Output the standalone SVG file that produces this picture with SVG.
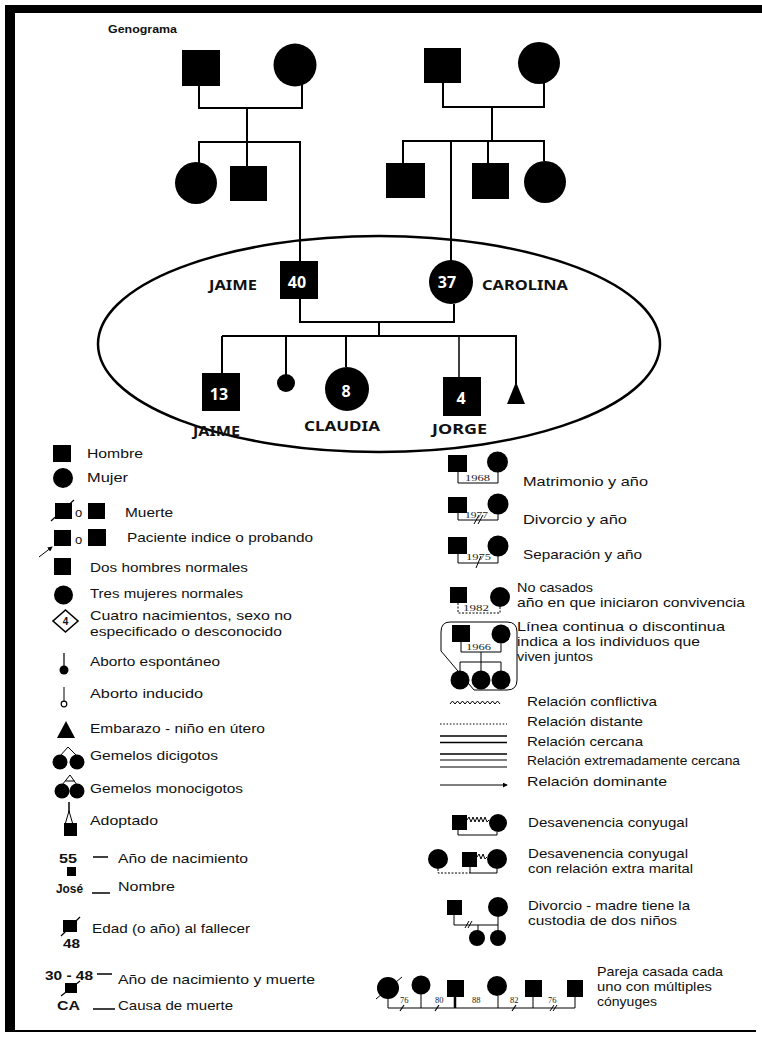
<svg xmlns="http://www.w3.org/2000/svg" width="762" height="1038" viewBox="0 0 762 1038">
<defs>
<style>
.t{font-family:"Liberation Sans","Noto Sans",sans-serif;font-size:13px;fill:#111}
.nm{font-family:"Noto Sans","Liberation Sans",sans-serif;font-size:14px;font-weight:bold;fill:#111}
.num{font-family:"Noto Sans","Liberation Sans",sans-serif;font-size:16px;font-weight:bold;fill:#fff;text-anchor:middle}
.lb{font-family:"Liberation Sans","Noto Sans",sans-serif;font-size:12px;font-weight:bold;fill:#111}
.yr{font-family:"Liberation Serif",serif;font-size:8.5px;fill:#222}
.ln{stroke:#000;stroke-width:2;fill:none}
.th{stroke:#000;stroke-width:1.2;fill:none}
.hl{stroke:#000;stroke-width:1;fill:none}
.f{fill:#000}
</style>
<marker id="ah" viewBox="0 0 6 6" refX="5" refY="3" markerWidth="5" markerHeight="5" orient="auto" markerUnits="userSpaceOnUse">
<path d="M0,0 L6,3 L0,6 Z" fill="#000"/>
</marker>
</defs>
<rect width="762" height="1038" fill="#fff"/>
<g id="frame">
<rect x="5" y="5" width="757" height="8" fill="#000"/>
<rect x="5" y="5" width="10" height="1027" fill="#000"/>
<line x1="5" y1="1031" x2="756" y2="1031" stroke="#000" stroke-width="2"/>
</g>
<text id="title" x="108" y="33" font-family="Liberation Sans,sans-serif" font-size="11" font-weight="bold" fill="#111" textLength="69" lengthAdjust="spacingAndGlyphs">Genograma</text>

<g id="connectors" class="ln">
<polyline points="199,86 199,108 302,108 302,84"/>
<line x1="247" y1="108" x2="247" y2="142"/>
<polyline points="199,163 199,142 300,142 300,261"/>
<line x1="247" y1="142" x2="247" y2="166"/>
<polyline points="443,83 443,107 544,107 544,83"/>
<line x1="492" y1="107" x2="492" y2="141"/>
<polyline points="403,163 403,141 544,141 544,161"/>
<line x1="451" y1="141" x2="451" y2="261"/>
<line x1="488" y1="141" x2="488" y2="163"/>
<polyline points="300,299 300,322 454,322 454,304"/>
<line x1="379" y1="322" x2="379" y2="336"/>
<line x1="222" y1="336" x2="517" y2="336"/>
<line x1="222" y1="336" x2="222" y2="373"/>
<line x1="286" y1="336" x2="286" y2="376"/>
<line x1="346" y1="336" x2="346" y2="367"/>
<line x1="459" y1="336" x2="459" y2="377" stroke-width="1.5"/>
<line x1="516" y1="336" x2="516" y2="384"/>
</g>

<g id="gp-left-father"><rect x="182" y="50" width="38" height="36" class="f"/></g>
<g id="gp-left-mother"><circle cx="295" cy="65" r="21.5" class="f"/></g>
<g id="aunt-left"><circle cx="196" cy="183" r="21" class="f"/></g>
<g id="uncle-left"><rect x="230" y="166" width="37" height="35" class="f"/></g>
<g id="gp-right-father"><rect x="424" y="48" width="37" height="35" class="f"/></g>
<g id="gp-right-mother"><circle cx="539" cy="63" r="21" class="f"/></g>
<g id="uncle-right-1"><rect x="386" y="163" width="39" height="35" class="f"/></g>
<g id="uncle-right-2"><rect x="472" y="163" width="37" height="36" class="f"/></g>
<g id="aunt-right"><circle cx="545" cy="182" r="21" class="f"/></g>

<g id="household"><ellipse cx="379" cy="344" rx="281" ry="108" fill="none" stroke="#000" stroke-width="2.5"/></g>

<g id="jaime-father">
<rect x="280" y="261" width="38" height="38" class="f"/>
<text x="297" y="288" class="num">40</text>
<text x="209" y="290" class="nm" textLength="48" lengthAdjust="spacingAndGlyphs">JAIME</text>
</g>
<g id="carolina">
<circle cx="451" cy="282" r="22" class="f"/>
<text x="447" y="288" class="num">37</text>
<text x="482" y="290" class="nm" textLength="86" lengthAdjust="spacingAndGlyphs">CAROLINA</text>
</g>
<g id="jaime-son">
<rect x="202" y="373" width="38" height="38" class="f"/>
<text x="219" y="400" class="num">13</text>
<text x="193" y="436" class="nm" textLength="47" lengthAdjust="spacingAndGlyphs">JAIME</text>
</g>
<g id="miscarriage"><circle cx="286" cy="383" r="9" class="f"/></g>
<g id="claudia">
<circle cx="347" cy="389" r="22" class="f"/>
<text x="346" y="397" class="num">8</text>
<text x="304" y="431" class="nm" textLength="76" lengthAdjust="spacingAndGlyphs">CLAUDIA</text>
</g>
<g id="jorge">
<rect x="443" y="377" width="38" height="39" class="f"/>
<text x="461" y="404" class="num">4</text>
<text x="432" y="434" class="nm" textLength="55" lengthAdjust="spacingAndGlyphs">JORGE</text>
</g>
<g id="pregnancy"><polygon points="516,382 507,404 525,404" class="f"/></g>

<!-- left legend -->
<g id="leg-hombre"><rect x="53" y="445" width="18" height="17" class="f"/>
<text x="87" y="458" class="t" textLength="56" lengthAdjust="spacingAndGlyphs">Hombre</text></g>
<g id="leg-mujer"><circle cx="63" cy="478" r="10" class="f"/>
<text x="87" y="482" class="t" textLength="41" lengthAdjust="spacingAndGlyphs">Mujer</text></g>
<g id="leg-muerte"><rect x="55" y="503" width="17" height="16" class="f"/>
<line x1="51" y1="521" x2="74" y2="500" class="th"/>
<text x="75" y="517" class="t" font-size="11">o</text>
<rect x="88" y="503" width="17" height="16" class="f"/>
<text x="125" y="517" class="t" textLength="48" lengthAdjust="spacingAndGlyphs">Muerte</text></g>
<g id="leg-paciente"><line x1="39" y1="557" x2="52" y2="547" class="hl" marker-end="url(#ah)"/>
<rect x="54" y="530" width="17" height="16" class="f"/>
<text x="75" y="544" class="t" font-size="11">o</text>
<rect x="88" y="529" width="18" height="17" class="f"/>
<text x="127" y="542" class="t" textLength="186" lengthAdjust="spacingAndGlyphs">Paciente indice o probando</text></g>
<g id="leg-dos-hombres"><rect x="54" y="558" width="17" height="17" class="f"/>
<text x="90" y="572" class="t" textLength="158" lengthAdjust="spacingAndGlyphs">Dos hombres normales</text></g>
<g id="leg-tres-mujeres"><circle cx="63.5" cy="595" r="9.5" class="f"/>
<text x="90" y="598" class="t" textLength="153" lengthAdjust="spacingAndGlyphs">Tres mujeres normales</text></g>
<g id="leg-cuatro"><polygon points="65.5,610 78,621 65.5,632 53,621" fill="#fff" stroke="#000" stroke-width="1.6"/>
<text x="65.5" y="625" font-family="Liberation Sans,sans-serif" font-size="10" font-weight="bold" text-anchor="middle" fill="#111">4</text>
<text x="90" y="620" class="t" textLength="202" lengthAdjust="spacingAndGlyphs">Cuatro nacimientos, sexo no</text>
<text x="90" y="636" class="t" textLength="192" lengthAdjust="spacingAndGlyphs">especificado o desconocido</text></g>
<g id="leg-aborto-esp"><line x1="64" y1="653" x2="64" y2="667" class="th"/><circle cx="64" cy="670" r="4.5" class="f"/>
<text x="90" y="666" class="t" textLength="130" lengthAdjust="spacingAndGlyphs">Aborto espontáneo</text></g>
<g id="leg-aborto-ind"><line x1="64" y1="687" x2="64" y2="701" class="hl"/><circle cx="64" cy="704" r="2.8" fill="#fff" stroke="#000" stroke-width="1.2"/>
<text x="90" y="698" class="t" textLength="113" lengthAdjust="spacingAndGlyphs">Aborto inducido</text></g>
<g id="leg-embarazo"><polygon points="66,721 57,738 75,738" class="f"/>
<text x="90" y="733" class="t" textLength="175" lengthAdjust="spacingAndGlyphs">Embarazo - niño en útero</text></g>
<g id="leg-dicigotos"><polyline points="60,756 68,747 77,756" class="hl"/>
<circle cx="60" cy="762" r="7.5" class="f"/><circle cx="77" cy="762" r="7.5" class="f"/>
<text x="90" y="760" class="t" textLength="128" lengthAdjust="spacingAndGlyphs">Gemelos dicigotos</text></g>
<g id="leg-monocigotos"><polyline points="62,785 70,775 77,785" class="hl"/><line x1="65.5" y1="781" x2="74.5" y2="781" class="hl"/>
<circle cx="62" cy="791" r="7.5" class="f"/><circle cx="77" cy="791" r="7.5" class="f"/>
<text x="90" y="793" class="t" textLength="153" lengthAdjust="spacingAndGlyphs">Gemelos monocigotos</text></g>
<g id="leg-adoptado"><line x1="69" y1="802" x2="69" y2="812" stroke="#000" stroke-width="1.5"/>
<polyline points="65.5,823 69,811 72.5,823" class="hl"/>
<rect x="64" y="823" width="13" height="13" class="f"/>
<text x="90" y="825" class="t" textLength="68" lengthAdjust="spacingAndGlyphs">Adoptado</text></g>
<g id="leg-nacimiento"><text x="59" y="863" class="lb" textLength="18" lengthAdjust="spacingAndGlyphs">55</text>
<line x1="93" y1="857" x2="108" y2="857" stroke="#000" stroke-width="1.5"/>
<rect x="67" y="867" width="9" height="9" class="f"/>
<text x="118" y="863" class="t" textLength="130" lengthAdjust="spacingAndGlyphs">Año de nacimiento</text>
<text x="56" y="893" class="lb" textLength="27" lengthAdjust="spacingAndGlyphs">José</text>
<line x1="92" y1="893" x2="110" y2="893" stroke="#000" stroke-width="1.5"/>
<text x="118" y="891" class="t" textLength="57" lengthAdjust="spacingAndGlyphs">Nombre</text></g>
<g id="leg-edad"><rect x="63" y="920" width="14" height="12" class="f"/>
<line x1="61" y1="936" x2="80" y2="917" class="th"/>
<text x="63" y="948" class="lb" textLength="17" lengthAdjust="spacingAndGlyphs">48</text>
<text x="92" y="933" class="t" textLength="158" lengthAdjust="spacingAndGlyphs">Edad (o año) al fallecer</text></g>
<g id="leg-nac-muerte"><text x="45" y="980" class="lb" textLength="48" lengthAdjust="spacingAndGlyphs">30 - 48</text>
<line x1="97" y1="974" x2="112" y2="974" stroke="#000" stroke-width="1.5"/>
<rect x="65" y="983" width="12" height="10" class="f"/>
<line x1="61" y1="996" x2="80" y2="981" class="th"/>
<text x="118" y="984" class="t" textLength="197" lengthAdjust="spacingAndGlyphs">Año de nacimiento y muerte</text>
<text x="57" y="1010" class="lb" textLength="23" lengthAdjust="spacingAndGlyphs">CA</text>
<line x1="93" y1="1009" x2="115" y2="1009" stroke="#000" stroke-width="1.5"/>
<text x="118" y="1010" class="t" textLength="115" lengthAdjust="spacingAndGlyphs">Causa de muerte</text></g>

<!-- right legend -->
<g id="leg-matrimonio"><rect x="448" y="455" width="19" height="17" class="f"/><circle cx="497.5" cy="462" r="10.5" class="f"/>
<polyline points="458,472 458,483 498,483 498,472" class="hl"/>
<text x="465" y="481" class="yr" textLength="25" lengthAdjust="spacingAndGlyphs">1968</text>
<text x="523" y="486" class="t" textLength="125" lengthAdjust="spacingAndGlyphs">Matrimonio y año</text></g>
<g id="leg-divorcio"><rect x="448" y="497" width="19" height="16" class="f"/><circle cx="498" cy="504" r="10.5" class="f"/>
<polyline points="458,513 458,520 498,520 498,514" class="hl"/>
<text x="465" y="518" class="yr" textLength="23" lengthAdjust="spacingAndGlyphs">1977</text>
<line x1="474" y1="524" x2="479" y2="515" class="hl"/><line x1="478" y1="524" x2="483" y2="515" class="hl"/>
<text x="523" y="524" class="t" textLength="104" lengthAdjust="spacingAndGlyphs">Divorcio y año</text></g>
<g id="leg-separacion"><rect x="448" y="537" width="19" height="17" class="f"/><circle cx="498" cy="546" r="10.5" class="f"/>
<polyline points="458,554 458,563 498,563 498,556" class="hl"/>
<text x="466" y="560" class="yr" textLength="25" lengthAdjust="spacingAndGlyphs">1975</text>
<line x1="476" y1="568" x2="481" y2="556" class="hl"/>
<text x="523" y="559" class="t" textLength="119" lengthAdjust="spacingAndGlyphs">Separación y año</text></g>
<g id="leg-no-casados"><rect x="450" y="587" width="17" height="16" class="f"/><circle cx="500" cy="597" r="10" class="f"/>
<polyline points="458,603 458,613 500,613 500,607" class="hl" stroke-dasharray="2,1.5"/>
<text x="463" y="611" class="yr" textLength="26" lengthAdjust="spacingAndGlyphs">1982</text>
<text x="517" y="592" class="t" textLength="76" lengthAdjust="spacingAndGlyphs">No casados</text>
<text x="517" y="607" class="t" textLength="228" lengthAdjust="spacingAndGlyphs">año en que iniciaron convivencia</text></g>
<g id="leg-viven-juntos"><path d="M450,622 H507 Q517,622 517,632 V680 Q517,690 507,690 H474 L441,651 V632 Q441,622 450,622 Z" class="hl"/>
<rect x="452" y="625" width="18" height="17" class="f"/><circle cx="501" cy="634" r="9.5" class="f"/>
<polyline points="461,642 461,652 501,652 501,643.5" class="hl"/>
<text x="466" y="650" class="yr" textLength="25" lengthAdjust="spacingAndGlyphs">1966</text>
<line x1="481" y1="652" x2="481" y2="662" class="hl"/>
<polyline points="460,671 460,662 501,662 501,671" class="hl"/>
<line x1="481" y1="662" x2="481" y2="671" class="hl"/>
<circle cx="460" cy="680" r="9.5" class="f"/><circle cx="481" cy="680" r="9.5" class="f"/><circle cx="501" cy="680" r="9.5" class="f"/>
<text x="517" y="631" class="t" textLength="208" lengthAdjust="spacingAndGlyphs">Línea continua o discontinua</text>
<text x="517" y="646" class="t" textLength="183" lengthAdjust="spacingAndGlyphs">indica a los individuos que</text>
<text x="517" y="661" class="t" textLength="76" lengthAdjust="spacingAndGlyphs">viven juntos</text></g>
<g id="leg-conflictiva"><polyline points="450,704 452.5,701 455,704 457.5,701 460,704 462.5,701 465,704 467.5,701 470,704 472.5,701 475,704 477.5,701 480,704 482.5,701 485,704 487.5,701 490,704 492.5,701 495,704 497.5,701 500,704" class="hl"/>
<text x="527" y="706" class="t" textLength="130" lengthAdjust="spacingAndGlyphs">Relación conflictiva</text></g>
<g id="leg-distante"><line x1="440" y1="724" x2="507" y2="724" stroke="#000" stroke-width="1.2" stroke-dasharray="1.5,1.8"/>
<text x="527" y="726" class="t" textLength="116" lengthAdjust="spacingAndGlyphs">Relación distante</text></g>
<g id="leg-cercana"><line x1="440" y1="736" x2="507" y2="736" stroke="#000" stroke-width="1.3"/><line x1="440" y1="742.5" x2="507" y2="742.5" stroke="#000" stroke-width="1.6"/>
<text x="527" y="746" class="t" textLength="116" lengthAdjust="spacingAndGlyphs">Relación cercana</text></g>
<g id="leg-extrem-cercana"><line x1="440" y1="754" x2="507" y2="754" stroke="#000" stroke-width="1.5"/><line x1="440" y1="760" x2="507" y2="760" stroke="#000" stroke-width="1.2"/><line x1="440" y1="767" x2="507" y2="767" stroke="#000" stroke-width="1.2"/>
<text x="527" y="765" class="t" textLength="213" lengthAdjust="spacingAndGlyphs">Relación extremadamente cercana</text></g>
<g id="leg-dominante"><line x1="440" y1="785" x2="507" y2="785" class="th" marker-end="url(#ah)"/>
<text x="527" y="786" class="t" textLength="140" lengthAdjust="spacingAndGlyphs">Relación dominante</text></g>
<g id="leg-desavenencia"><rect x="452" y="815" width="15" height="15" class="f"/><circle cx="498" cy="823" r="9" class="f"/>
<polyline points="467,820 469,817 471,822 473,817 475,822 477,817 479,822 481,817 483,822 485,817 487,822 489,820" class="hl"/>
<polyline points="458,830 458,835 497,835 497,832" class="hl"/>
<text x="528" y="827" class="t" textLength="160" lengthAdjust="spacingAndGlyphs">Desavenencia conyugal</text></g>
<g id="leg-extramarital"><circle cx="438" cy="859" r="10" class="f"/><rect x="462" y="852" width="15" height="15" class="f"/><circle cx="497" cy="859" r="10" class="f"/>
<polyline points="477,857 479,854 481,859 483,854 485,859 487,857" class="hl"/>
<polyline points="470,867 470,873 497,873 497,869" class="hl"/>
<polyline points="438,869 438,873 470,873" class="hl" stroke-dasharray="2,1.5"/>
<text x="528" y="858" class="t" textLength="160" lengthAdjust="spacingAndGlyphs">Desavenencia conyugal</text>
<text x="528" y="873" class="t" textLength="165" lengthAdjust="spacingAndGlyphs">con relación extra marital</text></g>
<g id="leg-custodia"><rect x="447" y="900" width="15" height="15" class="f"/><circle cx="498" cy="907" r="10" class="f"/>
<polyline points="454,915 454,925 498,925 498,917" class="hl"/>
<line x1="465" y1="928" x2="469" y2="921" class="hl"/><line x1="468" y1="928" x2="472" y2="921" class="hl"/>
<line x1="478" y1="925" x2="478" y2="931" class="hl"/><line x1="498" y1="925" x2="498" y2="931" class="hl"/>
<circle cx="477" cy="938" r="8" class="f"/><circle cx="498" cy="938" r="8" class="f"/>
<text x="528" y="910" class="t" textLength="162" lengthAdjust="spacingAndGlyphs">Divorcio - madre tiene la</text>
<text x="528" y="925" class="t" textLength="149" lengthAdjust="spacingAndGlyphs">custodia de dos niños</text></g>
<g id="leg-multiples"><circle cx="388" cy="988" r="11" class="f"/>
<line x1="376" y1="999" x2="402" y2="977" class="hl"/>
<circle cx="421" cy="985" r="9.5" class="f"/>
<rect x="447" y="980" width="17" height="17" class="f"/>
<circle cx="497" cy="986" r="10" class="f"/>
<rect x="525" y="980" width="17" height="17" class="f"/>
<rect x="567" y="980" width="16" height="17" class="f"/>
<polyline points="388,999 388,1008 575,1008 575,997" class="hl"/>
<line x1="421" y1="994" x2="421" y2="1008" class="hl"/>
<line x1="455" y1="997" x2="455" y2="1008" stroke="#000" stroke-width="2.5"/>
<line x1="498" y1="996" x2="498" y2="1008" class="hl"/>
<line x1="533" y1="997" x2="533" y2="1008" class="hl"/>
<line x1="400" y1="1011" x2="404" y2="1005" class="th"/>
<line x1="435" y1="1011" x2="439" y2="1005" class="th"/>
<line x1="512" y1="1011" x2="516" y2="1005" class="th"/>
<line x1="550" y1="1011" x2="554" y2="1005" class="hl"/><line x1="553" y1="1011" x2="557" y2="1005" class="hl"/>
<text x="400" y="1003" class="yr">76</text>
<text x="435" y="1003" class="yr">80</text>
<text x="472" y="1003" class="yr">88</text>
<text x="510" y="1003" class="yr">82</text>
<text x="548" y="1003" class="yr">76</text>
<text x="597" y="976" class="t" textLength="126" lengthAdjust="spacingAndGlyphs">Pareja casada cada</text>
<text x="597" y="991" class="t" textLength="115" lengthAdjust="spacingAndGlyphs">uno con múltiples</text>
<text x="597" y="1006" class="t" textLength="60" lengthAdjust="spacingAndGlyphs">cónyuges</text></g>
</svg>
